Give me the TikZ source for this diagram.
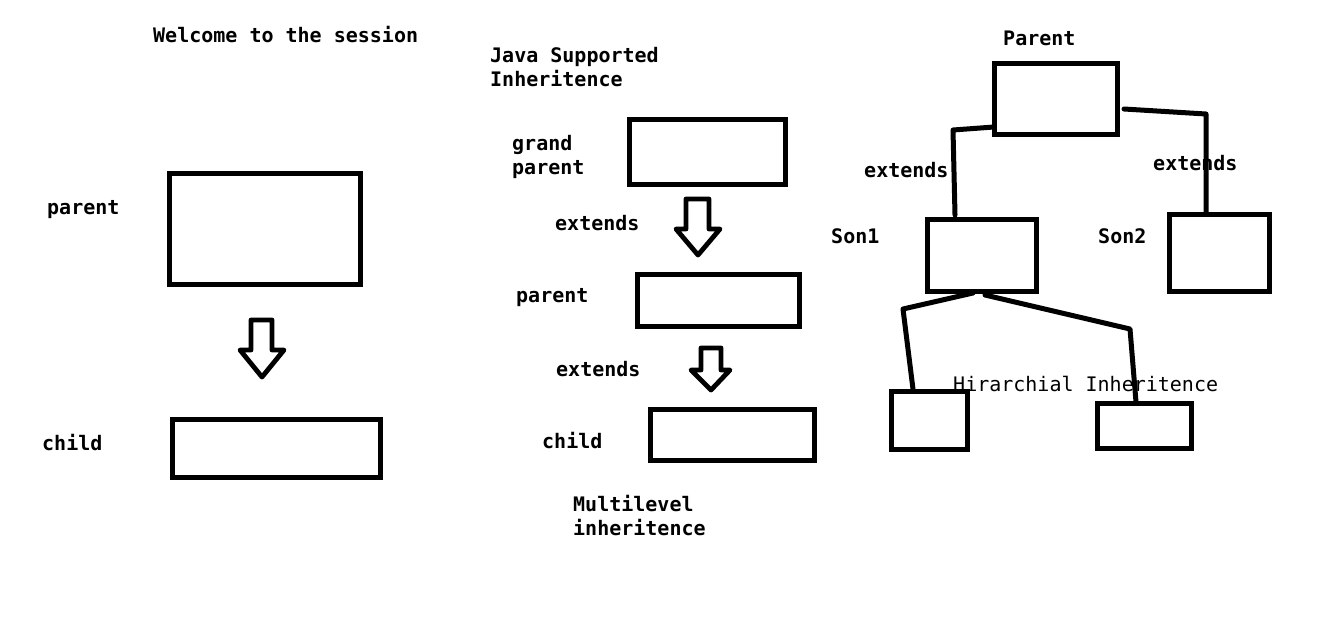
\documentclass[tikz,border=0pt]{standalone}
\usepackage{fontspec}
\newfontfamily\lblbold{DejaVu Sans Mono Bold}
\newfontfamily\lblreg{DejaVu Sans Mono}
\newcommand\lblB{\lblbold\fontsize{20}{24}\selectfont}
\newcommand\lblR{\lblreg\fontsize{20}{24}\selectfont}
\begin{document}
\begin{tikzpicture}[x=1pt,y=-1pt,
  box/.style={draw,line width=5pt,inner sep=0pt,outer sep=0pt},
  lbl/.style={anchor=base west,inner sep=0pt,font=\lblB},
  lblthin/.style={anchor=base west,inner sep=0pt,font=\lblR},
  conn/.style={line width=5pt,line cap=round,line join=round},
  blockarrow/.style={line width=4.8pt,line join=round}]

\useasboundingbox[fill=white] (0,0) rectangle (1322,624);

% ---------- left: single inheritance ----------
\node[lbl] (welcome) at (153,42) {Welcome to the session};
\node[box,minimum width=191pt,minimum height=111pt] (A) at (264.5,228.5) {};
\node[box,minimum width=208pt,minimum height=58pt] (B) at (276,448) {};
\node[lbl] (lA) at (47,214) {parent};
\node[lbl] (lB) at (42,450) {child};
\draw[blockarrow] (251,320) -- (272,320) -- (272,350) -- (284,350) -- (262,377) -- (240,350) -- (251,350) -- cycle;

% ---------- middle: multilevel ----------
\node[lbl] (java1) at (490,62) {Java Supported};
\node[lbl] (java2) at (490,86) {Inheritence};
\node[box,minimum width=156pt,minimum height=65pt] (GP) at (707,151.5) {};
\node[box,minimum width=162pt,minimum height=52pt] (PM) at (718,300) {};
\node[box,minimum width=164pt,minimum height=51pt] (CM) at (732,434.5) {};
\node[lbl] (lGP1) at (512,150) {grand};
\node[lbl] (lGP2) at (512,174) {parent};
\node[lbl] (lPM) at (516,302) {parent};
\node[lbl] (lCM) at (542,448) {child};
\node[lbl] (ext1) at (555,230) {extends};
\node[lbl] (ext2) at (556,376) {extends};
\node[lbl] (ml1) at (573,511) {Multilevel};
\node[lbl] (ml2) at (573,535) {inheritence};
\draw[blockarrow] (686,199) -- (709,199) -- (709,229) -- (720,229) -- (698,255) -- (676,229) -- (686,229) -- cycle;
\draw[blockarrow] (701,348) -- (721,348) -- (721,370) -- (730,370) -- (711,390) -- (691,370) -- (701,370) -- cycle;

% ---------- right: hierarchical ----------
\node[lbl] (lP) at (1003,45) {Parent};
\node[box,minimum width=123pt,minimum height=71pt] (P) at (1055.5,98.5) {};
\node[box,minimum width=109pt,minimum height=72pt] (S1) at (981.5,255) {};
\node[box,minimum width=100pt,minimum height=77pt] (S2) at (1219,252.5) {};
\node[box,minimum width=76pt,minimum height=58pt] (BL) at (929,420) {};
\node[box,minimum width=94pt,minimum height=45pt] (BR) at (1144,425.5) {};
\node[lbl] (lS1) at (831,243) {Son1};
\node[lbl] (lS2) at (1098,243) {Son2};
\node[lbl] (ext3) at (864,177) {extends};

\coordinate (k1) at (953,130);
\coordinate (k2) at (1206,114);
\coordinate (k3) at (903,309);
\coordinate (k4) at (1130,329);

\draw[conn] ([yshift=7pt]P.south west) -- (k1) -- ([xshift=-26.5pt,yshift=4pt]S1.north);
\draw[conn] ([xshift=7pt,yshift=-10.5pt]P.east) -- (k2) -- ([xshift=-13pt]S2.north);
\draw[conn] ([xshift=-8.5pt,yshift=-2pt]S1.south) -- (k3) -- ([xshift=-16pt,yshift=2pt]BL.north);
\draw[conn] ([xshift=3.5pt,yshift=-4pt]S1.south) -- (k4) -- ([xshift=-8pt,yshift=1pt]BR.north);

\node[lbl] (ext4) at (1153,170) {extends};
\node[lblthin] (hier) at (953,391) {Hirarchial Inheritence};
\end{tikzpicture}
\end{document}
